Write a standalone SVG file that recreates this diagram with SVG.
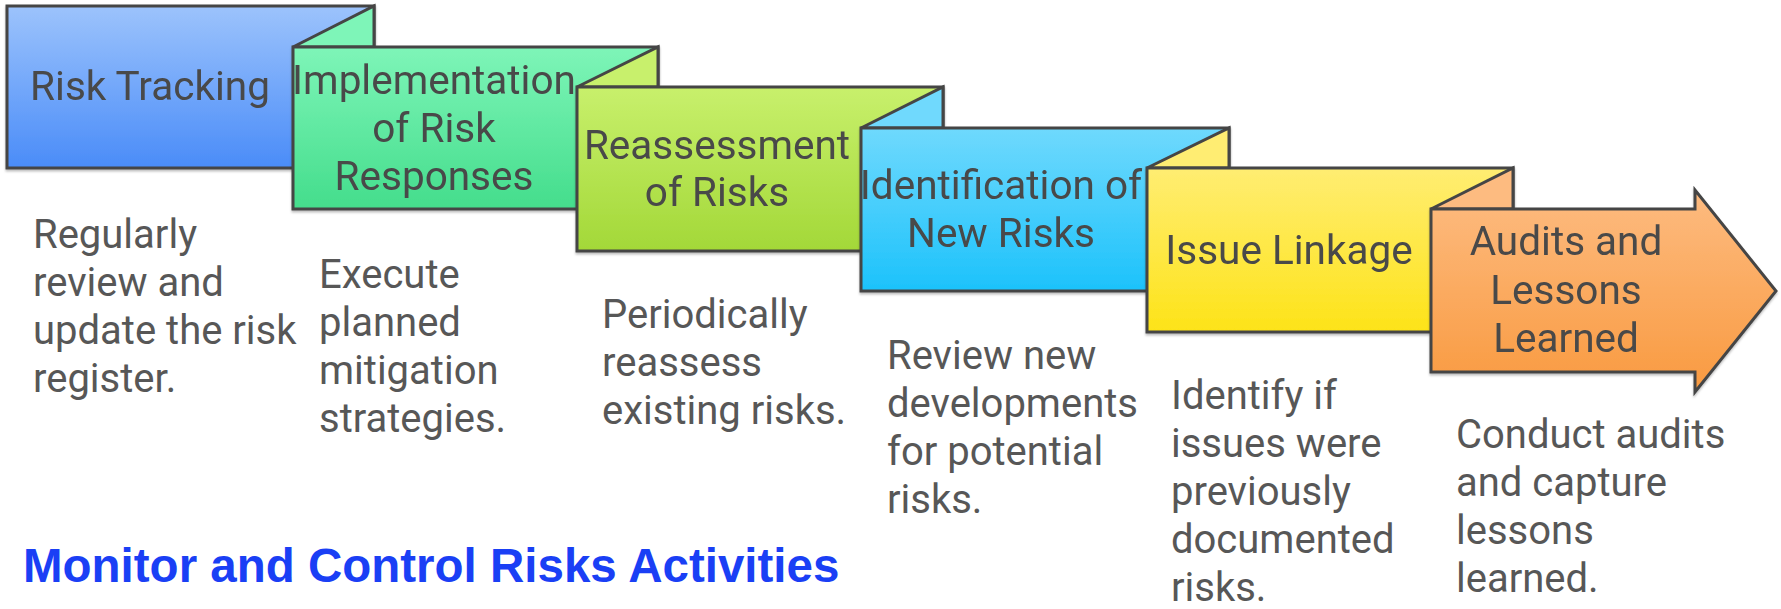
<svg xmlns="http://www.w3.org/2000/svg" width="1781" height="609" viewBox="0 0 1781 609">
  <defs>
    <linearGradient id="gBlue" x1="0" y1="0" x2="0" y2="1">
      <stop offset="0" stop-color="#9cc3fc"/>
      <stop offset="1" stop-color="#4a8cf8"/>
    </linearGradient>
    <linearGradient id="gGreen" x1="0" y1="0" x2="0" y2="1">
      <stop offset="0" stop-color="#7ef5b8"/>
      <stop offset="1" stop-color="#44dd8c"/>
    </linearGradient>
    <linearGradient id="gLime" x1="0" y1="0" x2="0" y2="1">
      <stop offset="0" stop-color="#c8f06c"/>
      <stop offset="1" stop-color="#a3d838"/>
    </linearGradient>
    <linearGradient id="gCyan" x1="0" y1="0" x2="0" y2="1">
      <stop offset="0" stop-color="#6fd9fd"/>
      <stop offset="1" stop-color="#1cc2fb"/>
    </linearGradient>
    <linearGradient id="gYellow" x1="0" y1="0" x2="0" y2="1">
      <stop offset="0" stop-color="#ffed72"/>
      <stop offset="1" stop-color="#fde318"/>
    </linearGradient>
    <linearGradient id="gOrange" x1="0" y1="0" x2="0" y2="1">
      <stop offset="0" stop-color="#fdbb80"/>
      <stop offset="1" stop-color="#f99a40"/>
    </linearGradient>
    <filter id="shadow" x="-5%" y="-5%" width="110%" height="115%">
      <feDropShadow dx="0" dy="2" stdDeviation="1.2" flood-color="#000" flood-opacity="0.25"/>
    </filter>
  </defs>
  <style>
    .shape { stroke: #454545; stroke-width: 3; stroke-linejoin: miter; }
    .label { font-family: Roboto, "Liberation Sans", sans-serif; font-size: 40.5px; fill: #484848; text-anchor: middle; }
    .desc { font-family: Roboto, "Liberation Sans", sans-serif; font-size: 40px; fill: #575757; }
    .title { font-family: "Liberation Sans", Arial, sans-serif; font-size: 47.5px; font-weight: bold; fill: #1a3ff5; }
  </style>

  <!-- step cards, back to front -->
  <g id="node-risk-tracking" filter="url(#shadow)">
    <rect class="shape" x="7" y="6" width="367" height="162" fill="url(#gBlue)"/>
    <text class="label" x="150" y="100">Risk Tracking</text>
  </g>

  <g id="node-implementation" filter="url(#shadow)">
    <polygon class="shape" points="293,47 374,6 374,47" fill="#7ef5b8"/>
    <rect class="shape" x="293" y="47" width="365" height="162" fill="url(#gGreen)"/>
    <text class="label" x="434" y="94">Implementation</text>
    <text class="label" x="434" y="142">of Risk</text>
    <text class="label" x="434" y="190">Responses</text>
  </g>

  <g id="node-reassessment" filter="url(#shadow)">
    <polygon class="shape" points="577,87 658,47 658,87" fill="#c8f06c"/>
    <rect class="shape" x="577" y="87" width="366" height="164" fill="url(#gLime)"/>
    <text class="label" x="717" y="159">Reassessment</text>
    <text class="label" x="717" y="206">of Risks</text>
  </g>

  <g id="node-identification" filter="url(#shadow)">
    <polygon class="shape" points="861,128 943,87 943,128" fill="#6fd9fd"/>
    <rect class="shape" x="861" y="128" width="368" height="163" fill="url(#gCyan)"/>
    <text class="label" x="1001" y="199">Identification of</text>
    <text class="label" x="1001" y="247">New Risks</text>
  </g>

  <g id="node-issue-linkage" filter="url(#shadow)">
    <polygon class="shape" points="1147,168 1229,128 1229,168" fill="#ffed72"/>
    <rect class="shape" x="1147" y="168" width="366" height="164" fill="url(#gYellow)"/>
    <text class="label" x="1289" y="264">Issue Linkage</text>
  </g>

  <g id="node-audits" filter="url(#shadow)">
    <polygon class="shape" points="1431,209 1513,168 1513,209" fill="#fdbb80"/>
    <polygon class="shape" points="1431,209 1695,209 1695,190 1776,291 1695,392 1695,372 1431,372" fill="url(#gOrange)"/>
    <text class="label" x="1566" y="255">Audits and</text>
    <text class="label" x="1566" y="304">Lessons</text>
    <text class="label" x="1566" y="352">Learned</text>
  </g>

  <!-- descriptions under each card -->
  <g id="desc-risk-tracking" class="desc">
    <text x="33" y="248">Regularly</text>
    <text x="33" y="296">review and</text>
    <text x="33" y="344">update the risk</text>
    <text x="33" y="392">register.</text>
  </g>
  <g id="desc-implementation" class="desc">
    <text x="319" y="288">Execute</text>
    <text x="319" y="336">planned</text>
    <text x="319" y="384">mitigation</text>
    <text x="319" y="432">strategies.</text>
  </g>
  <g id="desc-reassessment" class="desc">
    <text x="602" y="328">Periodically</text>
    <text x="602" y="376">reassess</text>
    <text x="602" y="424">existing risks.</text>
  </g>
  <g id="desc-identification" class="desc">
    <text x="887" y="369">Review new</text>
    <text x="887" y="417">developments</text>
    <text x="887" y="465">for potential</text>
    <text x="887" y="513">risks.</text>
  </g>
  <g id="desc-issue-linkage" class="desc">
    <text x="1171" y="409">Identify if</text>
    <text x="1171" y="457">issues were</text>
    <text x="1171" y="505">previously</text>
    <text x="1171" y="553">documented</text>
    <text x="1171" y="601">risks.</text>
  </g>
  <g id="desc-audits" class="desc">
    <text x="1456" y="448">Conduct audits</text>
    <text x="1456" y="496">and capture</text>
    <text x="1456" y="544">lessons</text>
    <text x="1456" y="592">learned.</text>
  </g>

  <g id="connectors"/>

  <text class="title" x="23" y="582">Monitor and Control Risks Activities</text>
</svg>
